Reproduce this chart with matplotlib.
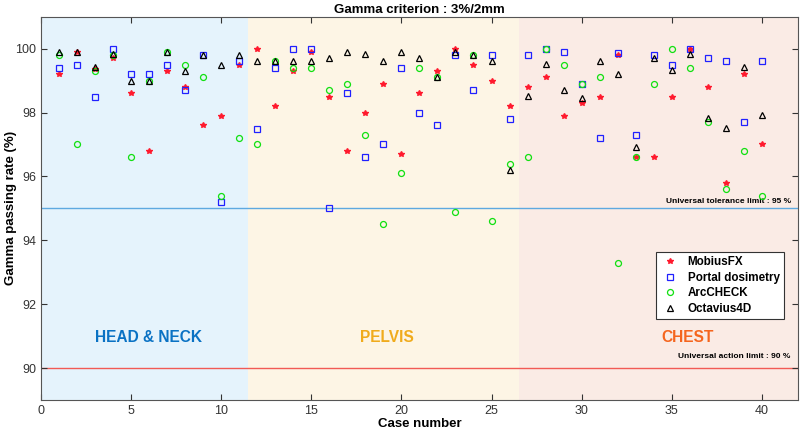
import matplotlib
matplotlib.use("Agg")
import matplotlib.pyplot as plt
import numpy as np

plt.rcParams['font.family'] = ['Liberation Sans', 'DejaVu Sans']

# case numbers 1..40
cases = np.arange(1, 41)

mobius = [99.2, 99.9, 99.35, 99.7, 98.6, 96.8, 99.3, 98.8, 97.6, 97.9,
          99.5, 100.0, 98.2, 99.3, 99.9, 98.5, 96.8, 98.0, 98.9, 96.7,
          98.6, 99.3, 100.0, 99.5, 99.0, 98.2, 98.8, 99.1, 97.9, 98.3,
          98.5, 99.8, 96.6, 96.6, 98.5, 100.0, 98.8, 95.8, 99.2, 97.0]
portal = [99.4, 99.5, 98.5, 100.0, 99.2, 99.2, 99.5, 98.7, 99.8, 95.2,
          99.6, 97.5, 99.4, 100.0, 100.0, 95.0, 98.6, 96.6, 97.0, 99.4,
          98.0, 97.6, 99.8, 98.7, 99.8, 97.8, 99.8, 100.0, 99.9, 98.9,
          97.2, 99.87, 97.3, 99.8, 99.5, 100.0, 99.7, 99.6, 97.7, 99.6]
arccheck = [99.8, 97.0, 99.3, 99.8, 96.6, 99.0, 99.9, 99.5, 99.1, 95.4,
            97.2, 97.0, 99.6, 99.4, 99.4, 98.7, 98.9, 97.3, 94.5, 96.1,
            99.4, 99.1, 94.9, 99.8, 94.6, 96.4, 96.6, 100.0, 99.5, 98.9,
            99.1, 93.3, 96.6, 98.9, 100.0, 99.4, 97.7, 95.6, 96.8, 95.4]
octavius = [99.9, 99.9, 99.44, 99.83, 99.0, 99.0, 99.9, 99.3, 99.8, 99.5,
            99.8, 99.6, 99.6, 99.6, 99.6, 99.72, 99.9, 99.82, 99.6, 99.9,
            99.7, 99.1, 99.9, 99.8, 99.6, 96.2, 98.52, 99.52, 98.72, 98.45,
            99.6, 99.22, 96.93, 99.7, 99.32, 99.82, 97.82, 97.52, 99.42, 97.93]

regions = [(0, 11.5, '#e5f3fc', 'HEAD & NECK', 6, '#0a72c4'),
           (11.5, 26.5, '#fdf5e5', 'PELVIS', 19.2, '#f0ab1c'),
           (26.5, 42, '#faebe5', 'CHEST', 35.9, '#f5651e')]

fig = plt.figure(figsize=(8, 4.36), dpi=100)
ax = fig.add_axes([0.051, 0.0826, 0.9465, 0.879])

for x0, x1, col, name, xt, tcol in regions:
    ax.axvspan(x0, x1, color=col, zorder=0, lw=0)
    ax.text(xt, 90.95, name, color=tcol, fontsize=11.2, fontweight='bold',
            ha='center', va='center')

ax.axhline(95, color='#5ea9e0', lw=1, zorder=1)
ax.axhline(90, color='#f25a55', lw=1, zorder=1)
ax.text(41.6, 95.2, 'Universal tolerance limit : 95 %', fontsize=6,
        fontweight='bold', ha='right', va='center')
ax.text(41.6, 90.36, 'Universal action limit : 90 %', fontsize=6,
        fontweight='bold', ha='right', va='center')

ax.plot(cases, mobius, '*', color='#ff1a2e', ms=4, label='MobiusFX', zorder=3)
ax.plot(cases, portal, 's', mfc='none', mec='#2020ff', ms=3.8, mew=0.9,
        label='Portal dosimetry', zorder=3)
ax.plot(cases, arccheck, 'o', mfc='none', mec='#10e010', ms=4.3, mew=0.9,
        label='ArcCHECK', zorder=3)
ax.plot(cases, octavius, '^', mfc='none', mec='black', ms=4.6, mew=0.9,
        label='Octavius4D', zorder=3)

ax.set_xlim(0, 42)
ax.set_ylim(89, 101)
ax.set_xticks(range(0, 41, 5))
ax.set_yticks(range(90, 101, 2))
ax.tick_params(direction='in', top=True, right=True, labelsize=9,
               colors='#333333', length=4)
for s in ax.spines.values():
    s.set_color('#555555')
    s.set_linewidth(0.8)

ax.set_title('Gamma criterion : 3%/2mm', fontsize=9.5, fontweight='bold', pad=3)
ax.set_xlabel('Case number', fontsize=9.5, fontweight='bold', labelpad=1)
ax.set_ylabel('Gamma passing rate (%)', fontsize=9.5, fontweight='bold')
ax.yaxis.set_label_coords(-0.031, 0.5)

leg = ax.legend(loc='upper left', bbox_to_anchor=(0.812, 0.386),
                frameon=True, fancybox=False, edgecolor='#333333',
                borderpad=0.35, labelspacing=0.3, handletextpad=0.6,
                handlelength=1.8, borderaxespad=0,
                prop={'weight': 'bold', 'size': 8.4})
leg.get_frame().set_linewidth(0.8)
leg.get_frame().set_facecolor('white')
leg.get_frame().set_alpha(1)

fig.savefig('out.png', dpi=100)
